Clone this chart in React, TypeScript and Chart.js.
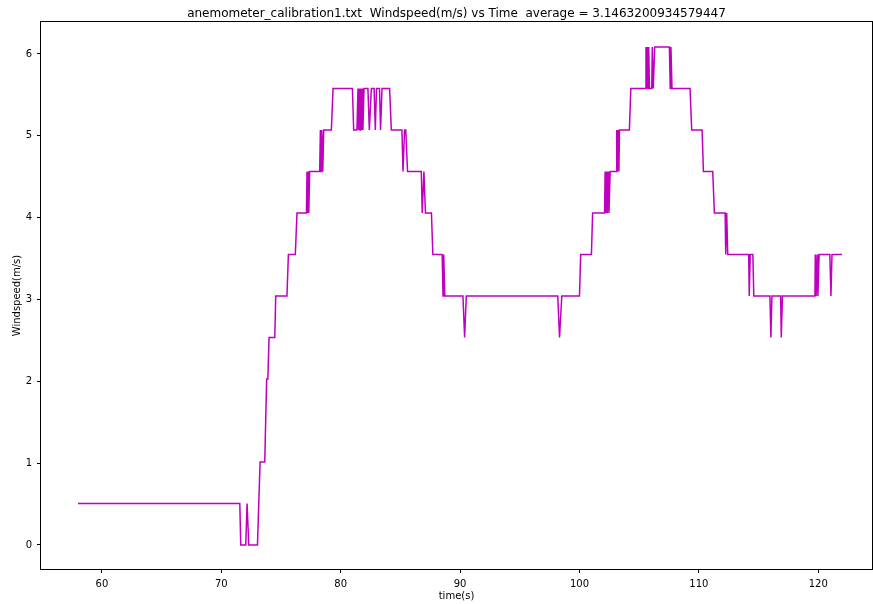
import React, { useEffect, useRef } from "react";
import { Chart, registerables } from "chart.js";

Chart.register(...registerables);

const TITLE = "anemometer_calibration1.txt  Windspeed(m/s) vs Time  average = 3.1463200934579447";
const X_LABEL = "time(s)";
const Y_LABEL = "Windspeed(m/s)";

const X_TICKS = [60, 70, 80, 90, 100, 110, 120];
const Y_TICKS = [0, 1, 2, 3, 4, 5, 6];

const TIME = [
  58.0, 71.55, 71.63, 72.05, 72.16, 72.3, 73.03, 73.25, 73.64, 73.8, 73.9, 74.0, 74.48, 74.56,
  75.5, 75.62, 76.2, 76.34, 77.13, 77.18, 77.23, 77.28, 77.33, 77.4, 78.24, 78.3, 78.36, 78.42,
  78.5, 78.58, 79.22, 79.36, 80.98, 81.09, 81.36, 81.45, 81.5, 81.56, 81.62, 81.68, 81.74, 81.8,
  81.86, 81.95, 82.28, 82.4, 82.57, 82.8, 82.9, 83.0, 83.25, 83.34, 83.46, 84.1, 84.24, 85.13,
  85.22, 85.35, 85.45, 85.6, 86.75, 86.83, 86.97, 87.1, 87.6, 87.72, 88.5, 88.57, 88.63, 88.72,
  90.24, 90.38, 90.52, 98.18, 98.33, 98.52, 100.0, 100.1, 101.0, 101.1, 102.1, 102.15, 102.2,
  102.27, 102.33, 102.4, 102.47, 102.57, 103.07, 103.12, 103.18, 103.25, 103.3, 103.35, 104.18,
  104.3, 105.52, 105.57, 105.62, 105.68, 105.74, 105.8, 105.86, 106.05, 106.1, 106.18, 106.3,
  107.53, 107.6, 107.66, 107.75, 109.26, 109.4, 110.27, 110.38, 111.16, 111.3, 112.2, 112.25,
  112.33, 112.42, 112.5, 114.17, 114.22, 114.3, 114.52, 114.6, 115.95, 116.03, 116.12, 116.85,
  116.9, 117.0, 119.72, 119.75, 119.82, 119.9, 119.97, 120.07, 120.97, 121.06, 121.15, 121.98,
];

const SPEED = [
  0.507, 0.507, 0, 0, 0.507, 0, 0, 1.014, 1.014, 2.028, 2.028, 2.535, 2.535, 3.042,
  3.042, 3.549, 3.549, 4.056, 4.056, 4.563, 4.056, 4.563, 4.056, 4.563, 4.563, 5.07, 4.563, 5.07,
  4.563, 5.07, 5.07, 5.577, 5.577, 5.07, 5.07, 5.577, 5.07, 5.577, 5.07, 5.577, 5.07, 5.577,
  5.07, 5.577, 5.577, 5.07, 5.577, 5.577, 5.07, 5.577, 5.577, 5.07, 5.577, 5.577, 5.07, 5.07,
  4.563, 5.07, 5.07, 4.563, 4.563, 4.056, 4.563, 4.056, 4.056, 3.549, 3.549, 3.042, 3.549, 3.042,
  3.042, 2.535, 3.042, 3.042, 2.535, 3.042, 3.042, 3.549, 3.549, 4.056, 4.056, 4.563, 4.056,
  4.563, 4.056, 4.563, 4.056, 4.563, 4.563, 5.07, 4.563, 5.07, 4.563, 5.07, 5.07,
  5.577, 5.577, 6.084, 5.577, 6.084, 5.577, 6.084, 5.577, 5.577, 6.084, 5.577, 6.084,
  6.084, 5.577, 6.084, 5.577, 5.577, 5.07, 5.07, 4.563, 4.563, 4.056, 4.056, 3.549,
  4.056, 3.549, 3.549, 3.549, 3.042, 3.549, 3.549, 3.042, 3.042, 2.535, 3.042, 3.042,
  2.535, 3.042, 3.042, 3.549, 3.042, 3.549, 3.042, 3.549, 3.549, 3.042, 3.549, 3.549,
];

const LINE_COLOR = "#bf00bf";
const FONT = "'DejaVu Sans', sans-serif";

const decorPlugin = {
  id: "decor",
  afterDraw(chart: any) {
    const { ctx, chartArea } = chart;
    const { left, right, top, bottom } = chartArea;
    ctx.save();
    ctx.strokeStyle = "#000";
    ctx.lineWidth = 1;
    ctx.strokeRect(Math.round(left) - 0.5, Math.round(top) - 0.5, Math.round(right - left) + 1, Math.round(bottom - top) + 1);
    ctx.fillStyle = "#000";
    ctx.textAlign = "center";
    ctx.textBaseline = "middle";
    ctx.font = `12px ${FONT}`;
    ctx.fillText(TITLE, (left + right) / 2, 13.5);
    ctx.font = `10px ${FONT}`;
    ctx.fillText(X_LABEL, (left + right) / 2, 596.5);
    ctx.translate(17, (top + bottom) / 2);
    ctx.rotate(-Math.PI / 2);
    ctx.fillText(Y_LABEL, 0, 0);
    ctx.restore();
  },
};

export default function App() {
  const ref = useRef<HTMLCanvasElement>(null);
  useEffect(() => {
    if (!ref.current) return;
    const data = TIME.map((t, i) => ({ x: t, y: SPEED[i] }));
    const chart = new Chart(ref.current, {
      type: "line",
      data: {
        datasets: [
          {
            data,
            borderColor: LINE_COLOR,
            borderWidth: 1.5,
            pointRadius: 0,
            tension: 0,
            fill: false,
          },
        ],
      },
      options: {
        animation: false,
        responsive: false,
        maintainAspectRatio: false,
        layout: { padding: { top: 22, right: 1, left: 0, bottom: 0 } },
        plugins: { legend: { display: false }, tooltip: { enabled: false }, title: { display: false } },
        scales: {
          x: {
            type: "linear",
            min: 54.9,
            max: 124.5,
            afterFit: (s: any) => { s.height = 35; },
            afterBuildTicks: (s: any) => { s.ticks = X_TICKS.map((v) => ({ value: v })); },
            grid: { display: true, drawOnChartArea: false, drawTicks: true, tickLength: 4, color: "#000" },
            border: { display: false },
            ticks: { color: "#000", font: { family: FONT, size: 10 }, padding: 5, maxRotation: 0 },
          },
          y: {
            type: "linear",
            min: -0.294,
            max: 6.39,
            afterFit: (s: any) => { s.width = 41; },
            afterBuildTicks: (s: any) => { s.ticks = Y_TICKS.map((v) => ({ value: v })); },
            grid: { display: true, drawOnChartArea: false, drawTicks: true, tickLength: 4, color: "#000" },
            border: { display: false },
            ticks: { color: "#000", font: { family: FONT, size: 10 }, padding: 5 },
          },
        },
      },
      plugins: [decorPlugin],
    });
    return () => chart.destroy();
  }, []);
  return (
    <div style={{ position: "absolute", left: 0, top: 0, width: 873, height: 604, background: "#fff" }}>
      <canvas ref={ref} width={873} height={604} style={{ width: 873, height: 604 }} />
    </div>
  );
}
